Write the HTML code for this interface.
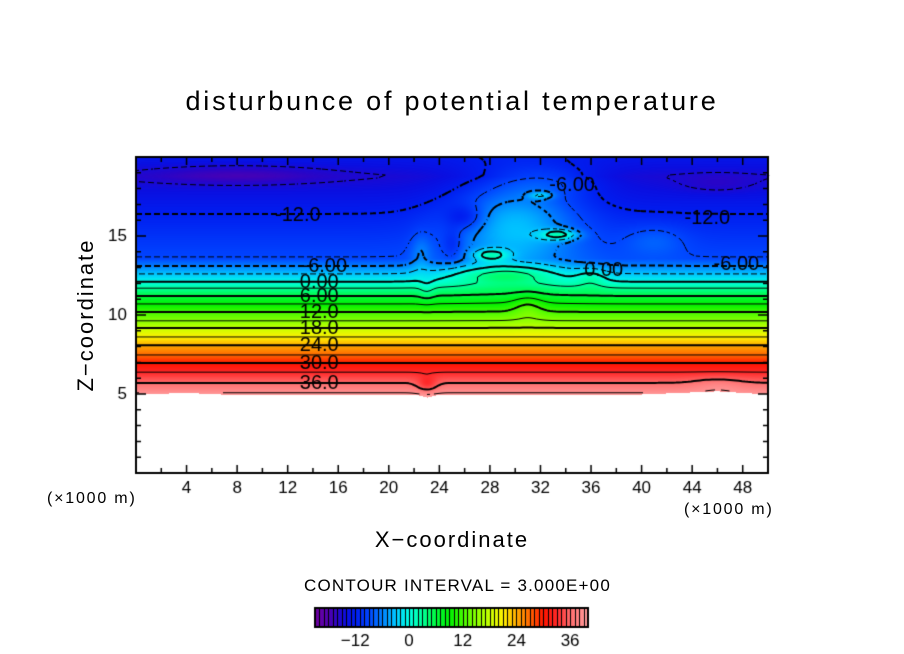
<!DOCTYPE html>
<html><head><meta charset="utf-8">
<style>
body{margin:0;background:#fff;width:904px;height:654px;overflow:hidden;position:relative;font-family:"Liberation Sans",sans-serif;}
.t{position:absolute;color:#000;white-space:nowrap;}
</style></head>
<body>
<div class="t" style="left:0;width:904px;text-align:center;top:86px;font-size:27px;letter-spacing:2.8px;padding-left:0px">disturbunce of potential temperature</div>
<div class="t" style="left:0;width:904px;text-align:center;top:527px;font-size:22px;letter-spacing:2px;">X−coordinate</div>
<div class="t" style="left:86px;top:315px;font-size:22px;letter-spacing:2px;transform:translate(-50%,-50%) rotate(-90deg);">Z−coordinate</div>
<div class="t" style="left:47px;top:490px;font-size:16px;letter-spacing:1.8px;">(×1000 m)</div>
<div class="t" style="left:684px;top:501px;font-size:16px;letter-spacing:1.8px;">(×1000 m)</div>
<div class="t" style="left:304px;top:576px;font-size:17px;letter-spacing:1.2px;">CONTOUR INTERVAL = 3.000E+00</div>
<canvas id="c" width="904" height="654" style="position:absolute;left:0;top:0"></canvas>
<script>
// data
const zKnots=[4.5,5.06,5.7,6.39,6.96,7.47,8.1,8.61,9.18,9.62,10.19,10.7,11.2,11.71,12.09,12.6,13.1,13.6,16.4,17.9,18.8,20];
const zValues=[43,39,36,33,30,27,24,21,18,15,12,9,6,3,0,-3,-6,-9,-12,-14,-15,-13];
// blobs: x, z, amplitude, sx, sz
const blobX=[30,26,25,28,33.5,32,29,33,31,23,23,46,36,41,22.5,8,46];
const blobZ=[16,16.2,14.5,13.8,15.1,17.6,12.6,18.5,10.6,5.6,11.6,5.6,12.4,14.8,14,18.9,18.3];
const blobA=[8,-4,-3,7,8,5,5,3,2.5,-3,-1.5,1.5,3,2.5,3,-2.5,-1.5];
const blobSX=[5,1.5,0.8,1.5,1.5,1,4,4,1.2,0.8,0.6,2,1.2,2.5,0.8,7,3];
const blobSZ=[3,0.8,1,0.4,0.35,0.25,0.6,1,0.8,0.5,0.8,0.5,0.6,1,1.2,0.6,0.6];
const terrainX=[0,4,8,16,22,23,24,30,40,46,48,50];
const terrainZ=[5.0,5.1,4.95,5.0,5.0,4.8,5.0,5.0,5.0,5.2,5.1,5.0];
const levels=[];for(let v=-21;v<=39;v+=3)levels.push(v);
const xTickLabels=[4,8,12,16,20,24,28,32,36,40,44,48];
const yTickLabels=[5,10,15];
const cbLabels=[-12,0,12,24,36];
const lineLabels=[[36,'36.0'],[30,'30.0'],[24,'24.0'],[18,'18.0'],[12,'12.0'],[6,'6.00'],[0,'0.00'],[-6,'-6.00']];

const X0=136,X1=768,Y0=157,Y1=473;
const sx=x=>X0+(x/50)*(X1-X0), sy=z=>Y1-(z/20)*(Y1-Y0);
const ix=p=>(p-X0)/(X1-X0)*50, iz=p=>(Y1-p)/(Y1-Y0)*20;
function interp(xs,ys,x){if(x<=xs[0])return ys[0];for(let i=1;i<xs.length;i++)if(x<=xs[i]){const t=(x-xs[i-1])/(xs[i]-xs[i-1]);return ys[i-1]+t*(ys[i]-ys[i-1]);}return ys[ys.length-1];}
function field(x,z){let v=interp(zKnots,zValues,z);for(let i=0;i<blobX.length;i++){const dx=(x-blobX[i])/blobSX[i],dz=(z-blobZ[i])/blobSZ[i];v+=blobA[i]*Math.exp(-(dx*dx+dz*dz));}return v;}
const stops=[[-21,[110,0,160]],[-18,[80,0,175]],[-16,[40,5,200]],[-14,[10,15,225]],[-12,[0,30,240]],[-9,[0,70,255]],[-6,[0,130,255]],[-3,[0,200,255]],[0,[0,255,225]],[3,[0,255,150]],[6,[0,250,60]],[9,[0,240,0]],[12,[70,250,0]],[15,[140,255,0]],[18,[200,255,0]],[21,[255,240,0]],[24,[255,170,0]],[27,[255,100,0]],[30,[255,20,0]],[33,[255,40,40]],[36,[255,110,110]],[40,[255,160,160]]];
function col(v){if(v<=stops[0][0])return stops[0][1];for(let i=1;i<stops.length;i++)if(v<=stops[i][0]){const a=stops[i-1],b=stops[i],t=(v-a[0])/(b[0]-a[0]);return a[1].map((c,k)=>Math.round(c+t*(b[1][k]-c)));}return stops[stops.length-1][1];}
const cv=document.getElementById('c'),ctx=cv.getContext('2d');
const W=X1-X0,H=Y1-Y0,img=ctx.createImageData(W,H);
for(let py=0;py<H;py++)for(let px=0;px<W;px++){const x=ix(X0+px),z=iz(Y0+py);const o=(py*W+px)*4;
 if(z<interp(terrainX,terrainZ,x)){img.data[o]=img.data[o+1]=img.data[o+2]=255;}else{const c=col(field(x,z));img.data[o]=c[0];img.data[o+1]=c[1];img.data[o+2]=c[2];}img.data[o+3]=255;}
ctx.putImageData(img,X0,Y0);
// contours via marching squares
const step=3,nx=Math.ceil(W/step)+1,ny=Math.ceil(H/step)+1,g=[];
for(let j=0;j<ny;j++){g[j]=[];for(let i=0;i<nx;i++)g[j][i]=field(ix(X0+i*step),iz(Y0+j*step));}
ctx.strokeStyle='#000';
levels.forEach(L=>{
 ctx.beginPath();ctx.lineWidth=(L%6===0)?2:1;
 for(let j=0;j<ny-1;j++)for(let i=0;i<nx-1;i++){
  if(L<0 && (i+j)%3===2)continue;
  const a=g[j][i],b=g[j][i+1],c=g[j+1][i+1],d=g[j+1][i];const pts=[];
  const e=(p,q,x1,y1,x2,y2)=>{if((p<L)!==(q<L)){const t=(L-p)/(q-p);pts.push([x1+t*(x2-x1),y1+t*(y2-y1)]);}};
  const x0=X0+i*step,y0=Y0+j*step,x1=x0+step,y1=y0+step;
  e(a,b,x0,y0,x1,y0);e(b,c,x1,y0,x1,y1);e(d,c,x0,y1,x1,y1);e(a,d,x0,y0,x0,y1);
  if(iz(y1)<interp(terrainX,terrainZ,ix(x0)))continue;
  for(let k=0;k+1<pts.length;k+=2){ctx.moveTo(pts[k][0],pts[k][1]);ctx.lineTo(pts[k+1][0],pts[k+1][1]);}
 }
 ctx.stroke();
});
// contour labels
ctx.font='20px "Liberation Sans",sans-serif';ctx.textAlign='center';ctx.textBaseline='middle';ctx.fillStyle='#000';
lineLabels.forEach(([v,t])=>{
 let z=5;for(let zz=5;zz<20;zz+=0.02){if(field(14.5,zz)<=v){z=zz;break;}}
 ctx.fillText(t,sx(14.5)+(v<0?5:0),sy(z)+1);
});
ctx.fillText('-12.0',sx(12.8),sy(16.3));ctx.fillText('-12.0',sx(45.2),sy(16.1));ctx.fillText('-6.00',sx(34.5),sy(18.2));ctx.fillText('-6.00',sx(47.5),sy(13.2));ctx.fillText('0.00',sx(37),sy(12.8));
// frame and ticks
ctx.lineWidth=2;ctx.strokeRect(X0,Y0,W,H);ctx.lineWidth=1.5;ctx.beginPath();
for(let x=2;x<50;x+=2){const L=x%4===0?8:5;ctx.moveTo(sx(x),Y1);ctx.lineTo(sx(x),Y1-L);ctx.moveTo(sx(x),Y0);ctx.lineTo(sx(x),Y0+L);}
for(let z=1;z<20;z++){const L=z%5===0?10:5;ctx.moveTo(X0,sy(z));ctx.lineTo(X0+L,sy(z));ctx.moveTo(X1,sy(z));ctx.lineTo(X1-L,sy(z));}
ctx.stroke();
ctx.font='17px "Liberation Sans",sans-serif';
xTickLabels.forEach(v=>ctx.fillText(v,sx(v),488));
ctx.textAlign='right';yTickLabels.forEach(v=>ctx.fillText(v,127,sy(v)));
// colorbar
const CB0=315,CB1=588,CBY=608,CBH=19,vmin=-21,vmax=40,cx=v=>CB0+(v-vmin)/(vmax-vmin)*(CB1-CB0);
for(let p=CB0;p<CB1;p++){const v=vmin+(p-CB0)/(CB1-CB0)*(vmax-vmin);const c=col(v);ctx.fillStyle=`rgb(${c})`;ctx.fillRect(p,CBY,1,CBH);}
ctx.fillStyle='#000';for(let v=-20;v<40;v+=1){ctx.fillRect(Math.round(cx(v)),CBY,1,CBH);}
ctx.lineWidth=2;ctx.strokeRect(CB0,CBY,CB1-CB0,CBH);
ctx.textAlign='center';cbLabels.forEach(v=>ctx.fillText(v<0?'−'+(-v):v,cx(v),641));
</script>
</body></html>
